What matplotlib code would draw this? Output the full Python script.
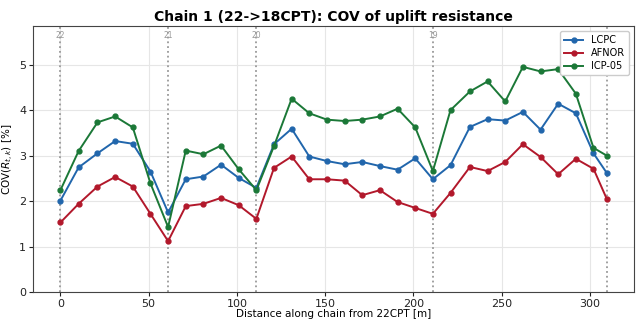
import matplotlib
matplotlib.use("Agg")
import matplotlib.pyplot as plt

distance = [0, 10.3, 21, 31, 41, 51, 61, 71, 81, 91, 101, 111, 121, 131, 141, 151,
            161, 171, 181, 191, 201, 211, 221, 232, 242, 252, 262, 272, 282, 292, 302, 309.5]
lcpc = [2.01, 2.74, 3.05, 3.32, 3.26, 2.65, 1.75, 2.48, 2.54, 2.80, 2.51, 2.29, 3.25, 3.59,
        2.98, 2.88, 2.81, 2.86, 2.77, 2.69, 2.94, 2.48, 2.79, 3.63, 3.80, 3.77, 3.96, 3.57,
        4.14, 3.93, 3.05, 2.62]
afnor = [1.53, 1.94, 2.32, 2.53, 2.32, 1.72, 1.12, 1.89, 1.94, 2.07, 1.91, 1.61, 2.73, 2.98,
         2.48, 2.48, 2.45, 2.13, 2.24, 1.98, 1.85, 1.72, 2.18, 2.75, 2.66, 2.86, 3.25, 2.97,
         2.59, 2.93, 2.71, 2.05]
icp05 = [2.24, 3.10, 3.73, 3.86, 3.62, 2.39, 1.43, 3.11, 3.03, 3.22, 2.70, 2.24, 3.21, 4.25,
         3.93, 3.79, 3.76, 3.79, 3.86, 4.03, 3.62, 2.66, 4.00, 4.41, 4.63, 4.19, 4.95, 4.85,
         4.90, 4.36, 3.17, 3.00]
cpt_pos = [0, 61, 111, 211, 309.5]
cpt_names = ["22", "21", "20", "19", ""]

fig, ax = plt.subplots(figsize=(6.36, 3.21), dpi=100)
fig.subplots_adjust(left=0.052, right=0.997, top=0.918, bottom=0.09)

ax.plot(distance, lcpc, '-o', color='#2166ac', lw=1.4, ms=3.5, label='LCPC', zorder=3)
ax.plot(distance, afnor, '-o', color='#b2182b', lw=1.4, ms=3.5, label='AFNOR', zorder=3)
ax.plot(distance, icp05, '-o', color='#1b7837', lw=1.4, ms=3.5, label='ICP-05', zorder=3)

ymax = max(icp05) * 1.18
for xp, nm in zip(cpt_pos, cpt_names):
    ax.axvline(xp, color='#999999', ls=':', lw=1.3, zorder=1)
    if nm:
        ax.text(xp, ymax * 0.965, nm, color='#999999', fontsize=5.5, ha='center', va='center')

ax.set_ylim(0, ymax)
ax.set_xlim(-15.5, 325)
ax.set_xticks([0, 50, 100, 150, 200, 250, 300])
ax.set_yticks([0, 1, 2, 3, 4, 5])
ax.grid(True, color='#e6e6e6', lw=0.8)
ax.set_axisbelow(True)
for s in ax.spines.values():
    s.set_color('#444444')
ax.tick_params(labelsize=8, colors='#222222', length=3, pad=2)
ax.set_xlabel('Distance along chain from 22CPT [m]', fontsize=7.5, labelpad=0)
ax.set_ylabel('COV($R_{t,k}$) [%]', fontsize=7.5, labelpad=2)
ax.set_title('Chain 1 (22->18CPT): COV of uplift resistance', fontsize=10, fontweight='bold', pad=4)
leg = ax.legend(loc='upper right', fontsize=7, framealpha=1, borderpad=0.4,
                handlelength=2.0, labelspacing=0.3)
leg.set_zorder(5)

fig.savefig('out.png', dpi=100)
